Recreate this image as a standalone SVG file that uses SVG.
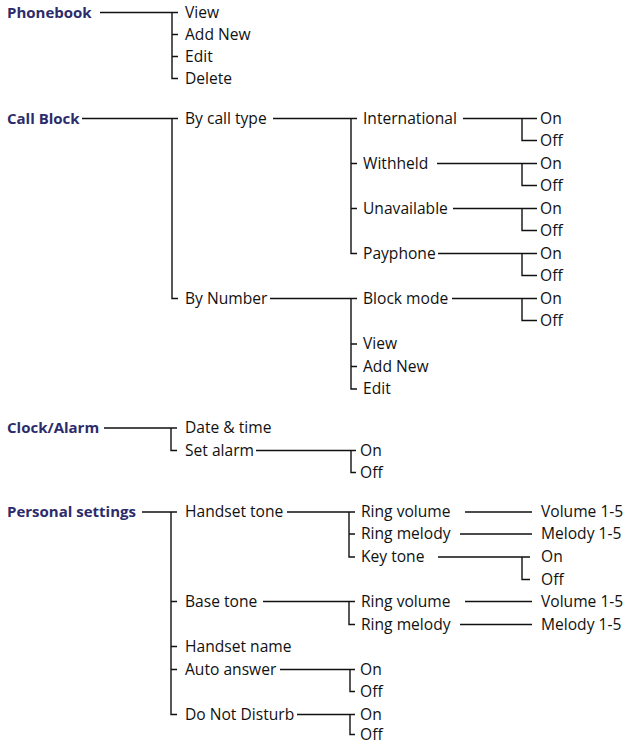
<svg xmlns="http://www.w3.org/2000/svg" width="631" height="744" viewBox="0 0 631 744">
<style>
.h{font-family:"Open Sans","Liberation Sans",sans-serif;font-weight:bold;font-size:15px;fill:#2d2b6b}
.t{font-family:"Open Sans","Liberation Sans",sans-serif;font-size:15.6px;fill:#111}
.c path{fill:none;stroke:#111;stroke-width:1.4}
</style>
<rect width="631" height="744" fill="#fff"/>
<g class="c" id="connectors">
<path d="M100 12.5H178M172 12.5V78.5H178M172 34.5H178M172 56.5H178"/>
<path d="M82 118.5H178M172 118.5V298.5H178"/>
<path d="M273 118.5H357M351 118.5V253.5H357M351 163.5H357M351 208.5H357"/>
<path d="M463 118.5H537M522 118.5V140.5H537"/>
<path d="M437 163.5H537M522 163.5V185.5H537"/>
<path d="M453 208.5H537M522 208.5V230.5H537"/>
<path d="M438 253.5H537M522 253.5V275.5H537"/>
<path d="M270 298.5H357M351 298.5V389H357M351 344H357M351 366.5H357"/>
<path d="M452 298.5H537M522 298.5V320.5H537"/>
<path d="M104 428H177M171 428V450.5H177"/>
<path d="M256 450.5H356M351 450.5V472.5H356"/>
<path d="M142 512H177M171 512V714.5H177M171 601.5H177M171 646.5H177M171 669.5H177"/>
<path d="M287 512H355M349 512V557H355M349 534H355"/>
<path d="M465 512H532M460 534H532"/>
<path d="M438 557H530M522 557V579.5H530"/>
<path d="M263 601.5H355M349 601.5V624.5H355"/>
<path d="M465 601.5H532M460 624.5H532"/>
<path d="M280 669.5H355M350 669.5V691.5H355"/>
<path d="M297 714.5H355M350 714.5V734.5H355"/>
</g>
<g id="phonebook">
<text class="h" x="7" y="17.5">Phonebook</text>
<text class="t" x="185" y="17.5">View</text>
<text class="t" x="185" y="39.5">Add New</text>
<text class="t" x="185" y="61.5">Edit</text>
<text class="t" x="185" y="83.5">Delete</text>
</g>
<g id="call-block">
<text class="h" x="7" y="123.5">Call Block</text>
<text class="t" x="185" y="123.5">By call type</text>
<text class="t" x="185" y="303.5">By Number</text>
</g>
<g id="by-call-type">
<text class="t" x="363" y="123.5">International</text>
<text class="t" x="540" y="123.5">On</text>
<text class="t" x="540" y="145.5">Off</text>
<text class="t" x="363" y="168.5">Withheld</text>
<text class="t" x="540" y="168.5">On</text>
<text class="t" x="540" y="190.5">Off</text>
<text class="t" x="363" y="213.5">Unavailable</text>
<text class="t" x="540" y="213.5">On</text>
<text class="t" x="540" y="235.5">Off</text>
<text class="t" x="363" y="258.5">Payphone</text>
<text class="t" x="540" y="258.5">On</text>
<text class="t" x="540" y="280.5">Off</text>
</g>
<g id="by-number">
<text class="t" x="363" y="303.5">Block mode</text>
<text class="t" x="540" y="303.5">On</text>
<text class="t" x="540" y="325.5">Off</text>
<text class="t" x="363" y="349">View</text>
<text class="t" x="363" y="371.5">Add New</text>
<text class="t" x="363" y="394">Edit</text>
</g>
<g id="clock-alarm">
<text class="h" x="7" y="433">Clock/Alarm</text>
<text class="t" x="185" y="433">Date &amp; time</text>
<text class="t" x="185" y="455.5">Set alarm</text>
<text class="t" x="360" y="455.5">On</text>
<text class="t" x="360" y="477.5">Off</text>
</g>
<g id="personal-settings">
<text class="h" x="7" y="517">Personal settings</text>
<text class="t" x="185" y="517">Handset tone</text>
<text class="t" x="185" y="606.5">Base tone</text>
<text class="t" x="185" y="651.5">Handset name</text>
<text class="t" x="185" y="674.5">Auto answer</text>
<text class="t" x="185" y="719.5">Do Not Disturb</text>
</g>
<g id="handset-tone">
<text class="t" x="361" y="517">Ring volume</text>
<text class="t" x="541" y="517">Volume 1-5</text>
<text class="t" x="361" y="539">Ring melody</text>
<text class="t" x="541" y="539">Melody 1-5</text>
<text class="t" x="361" y="562">Key tone</text>
<text class="t" x="541" y="562">On</text>
<text class="t" x="541" y="584.5">Off</text>
</g>
<g id="base-tone">
<text class="t" x="361" y="606.5">Ring volume</text>
<text class="t" x="541" y="606.5">Volume 1-5</text>
<text class="t" x="361" y="629.5">Ring melody</text>
<text class="t" x="541" y="629.5">Melody 1-5</text>
</g>
<g id="auto-answer">
<text class="t" x="360" y="674.5">On</text>
<text class="t" x="360" y="696.5">Off</text>
</g>
<g id="do-not-disturb">
<text class="t" x="360" y="719.5">On</text>
<text class="t" x="360" y="739.5">Off</text>
</g>
</svg>
